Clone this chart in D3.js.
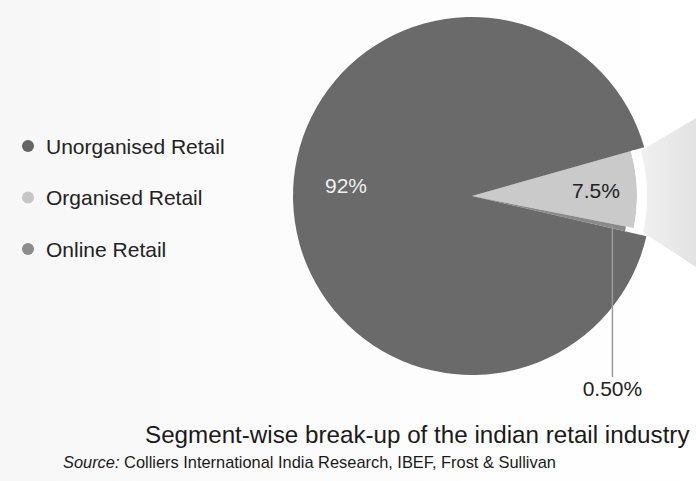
<!DOCTYPE html>
<html>
<head>
<meta charset="utf-8">
<script src="https://cdn.jsdelivr.net/npm/d3@7"></script>
<style>
  html, body { margin: 0; padding: 0; background: #fff; }
  svg { display: block; font-family: "Liberation Sans", Arial, sans-serif; }
</style>
</head>
<body>
<div class="chart"></div>
<script>
const width = 696;
const height = 481;

// data
const segments = ['Organised Retail', 'Online Retail', 'Unorganised Retail'];
const shares = [7.5, 0.5, 92];
const shareLabels = ['7.5%', '0.50%', '92%'];
const legendOrder = ['Unorganised Retail', 'Organised Retail', 'Online Retail'];
const title = 'Segment-wise break-up of the indian retail industry';

const cx = 472, cy = 196;
const deg = Math.PI / 180;

const color = d3.scaleOrdinal()
  .domain(segments)
  .range(['url(#orgGrad)', '#8a8a8a', '#6a6a6a']);
const legendColor = d3.scaleOrdinal()
  .domain(segments)
  .range(['#c6c6c6', '#8c8c8c', '#656565']);
// outer radius per slice (small slices drawn pulled in, like the source)
const outerR = d3.scaleOrdinal()
  .domain(segments)
  .range([165, 157, 179]);

const svg = d3.select('.chart').append('svg')
  .attr('width', width)
  .attr('height', height);

const defs = svg.append('defs');
const bg = defs.append('linearGradient').attr('id', 'bgGrad')
  .attr('x1', 0).attr('x2', 1).attr('y1', 0).attr('y2', 0);
bg.append('stop').attr('offset', '0%').attr('stop-color', '#f7f7f7');
bg.append('stop').attr('offset', '45%').attr('stop-color', '#fcfcfc');
bg.append('stop').attr('offset', '100%').attr('stop-color', '#ffffff');

const og = defs.append('radialGradient').attr('id', 'orgGrad')
  .attr('gradientUnits', 'userSpaceOnUse')
  .attr('cx', cx).attr('cy', cy).attr('r', 165);
og.append('stop').attr('offset', '0%').attr('stop-color', '#c4c4c4');
og.append('stop').attr('offset', '60%').attr('stop-color', '#b9b9b9');
og.append('stop').attr('offset', '100%').attr('stop-color', '#cacaca');

const wg = defs.append('linearGradient').attr('id', 'wedgeGrad')
  .attr('x1', 0).attr('x2', 1).attr('y1', 0).attr('y2', 0);
wg.append('stop').attr('offset', '0%').attr('stop-color', '#f0f0f0');
wg.append('stop').attr('offset', '100%').attr('stop-color', '#e3e3e3');

svg.append('rect').attr('width', width).attr('height', height).attr('fill', 'url(#bgGrad)');

const pie = d3.pie()
  .sort(null)
  .value(d => d)
  .startAngle(74.2 * deg)
  .endAngle(74.2 * deg + 2 * Math.PI);

const arcs = pie(shares);
const arc = d3.arc().innerRadius(0);

// connector wedge running off to the right (pie-of-pie remnant)
const wr = 175;
const wa0 = -15 * deg, wa1 = 12 * deg; // screen angles, clockwise from east
const wp = d3.path();
wp.moveTo(cx + wr * Math.cos(wa0), cy + wr * Math.sin(wa0));
wp.lineTo(width, 118);
wp.lineTo(width, 267);
wp.lineTo(cx + wr * Math.cos(wa1), cy + wr * Math.sin(wa1));
wp.arc(cx, cy, wr, wa1, wa0, true);
wp.closePath();
svg.append('path')
  .attr('d', wp.toString())
  .attr('fill', 'url(#wedgeGrad)');

const g = svg.append('g').attr('transform', `translate(${cx},${cy})`);

g.selectAll('path.slice')
  .data(arcs)
  .join('path')
  .attr('class', 'slice')
  .attr('d', (d, i) => arc.outerRadius(outerR(segments[i]))(d))
  .attr('fill', (d, i) => color(segments[i]));

// white rim on the organised slice
const rim = d3.arc().innerRadius(165).outerRadius(170);
g.append('path')
  .attr('d', rim(arcs[0]))
  .attr('fill', '#ffffff');

// labels
const labelArc = d3.arc();
const org = arcs[0];
const orgC = labelArc.innerRadius(124).outerRadius(124).centroid(org);
g.append('text')
  .attr('x', orgC[0]).attr('y', orgC[1])
  .attr('text-anchor', 'middle').attr('dy', '0.35em')
  .attr('font-size', 21).attr('fill', '#222')
  .text(shareLabels[0]);

g.append('text')
  .attr('x', -126)
  .attr('y', -10)
  .attr('text-anchor', 'middle').attr('dy', '0.35em')
  .attr('font-size', 21).attr('fill', '#f0f0f0')
  .text(shareLabels[2]);

// leader line for online retail
const on = arcs[1];
const onMid = (on.startAngle + on.endAngle) / 2;
const lr = 143.6;
const lx = lr * Math.sin(onMid);
const ly = -lr * Math.cos(onMid);
g.append('line')
  .attr('x1', lx).attr('y1', ly)
  .attr('x2', lx).attr('y2', 181)
  .attr('stroke', '#9a9a9a').attr('stroke-width', 1.5);
g.append('text')
  .attr('x', lx).attr('y', 200)
  .attr('text-anchor', 'middle')
  .attr('font-size', 21).attr('fill', '#222')
  .text(shareLabels[1]);

// legend
const legendY = d3.scalePoint()
  .domain(legendOrder)
  .range([146, 249]);
const legend = svg.append('g');
legend.selectAll('circle')
  .data(legendOrder)
  .join('circle')
  .attr('cx', 28).attr('cy', d => legendY(d))
  .attr('r', 6)
  .attr('fill', d => legendColor(d));
legend.selectAll('text')
  .data(legendOrder)
  .join('text')
  .attr('x', 46).attr('y', d => legendY(d))
  .attr('dy', '0.36em')
  .attr('font-size', 21).attr('fill', '#222')
  .text(d => d);

// title + source
svg.append('text')
  .attr('x', 145).attr('y', 443)
  .attr('font-size', 24.2).attr('fill', '#1a1a1a')
  .text(title);

const src = svg.append('text')
  .attr('x', 63).attr('y', 468)
  .attr('font-size', 16.4).attr('fill', '#1a1a1a');
src.append('tspan').attr('font-style', 'italic').text('Source:');
src.append('tspan').text(' Colliers International India Research, IBEF, Frost & Sullivan');
</script>
</body>
</html>
